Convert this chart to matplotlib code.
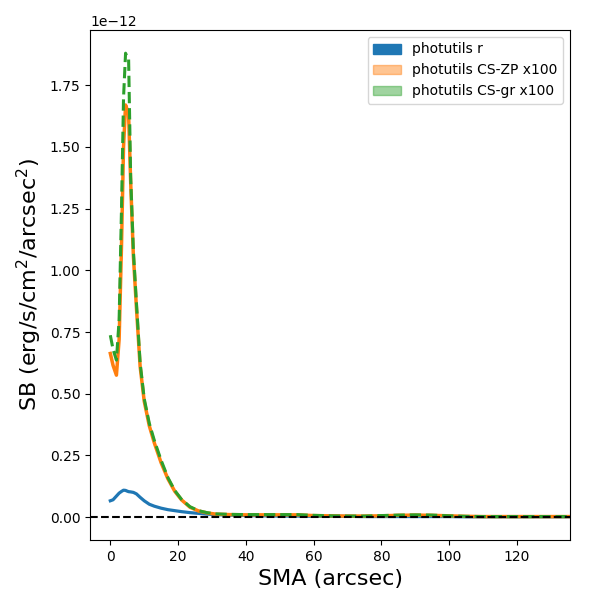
import numpy as np
import matplotlib
matplotlib.use("Agg")
import matplotlib.pyplot as plt
from matplotlib.patches import Patch

# surface-brightness profiles (units of 1e-12)
sma = [0.0, 0.8, 1.8, 2.6, 3.3, 3.9, 4.5, 5.0, 5.4, 6.0, 6.8, 7.7, 8.8,
       10.0, 11.5, 13.0, 15.0, 17.0, 19.0, 21.0, 23.5, 26.0, 28.5, 31.0,
       35.0, 40.0, 45.0, 50.0, 55.0, 60.0, 65.0, 70.0, 75.0, 80.0, 85.0,
       90.0, 95.0, 100.0, 105.0, 110.0, 120.0, 130.0, 140.0]

sb_r = [0.066, 0.070, 0.085, 0.097, 0.104, 0.109, 0.108, 0.105, 0.103, 0.102,
        0.100, 0.094, 0.080, 0.066, 0.052, 0.044, 0.036, 0.030, 0.026, 0.022,
        0.018, 0.015, 0.012, 0.010, 0.008, 0.006, 0.005, 0.004, 0.004, 0.003,
        0.003, 0.003, 0.002, 0.002, 0.002, 0.002, 0.002, 0.002, 0.001, 0.001,
        0.001, 0.001, 0.001]

sb_zp = [0.663, 0.615, 0.575, 0.720, 1.100, 1.500, 1.670, 1.650, 1.630, 1.360,
         1.060, 0.850, 0.610, 0.470, 0.370, 0.300, 0.220, 0.155, 0.105, 0.070,
         0.040, 0.025, 0.017, 0.012, 0.010, 0.009, 0.009, 0.009, 0.009, 0.006,
         0.005, 0.004, 0.004, 0.005, 0.007, 0.008, 0.007, 0.005, 0.003, 0.002,
         0.002, 0.002, 0.002]

sb_gr = [0.737, 0.680, 0.636, 0.800, 1.250, 1.700, 1.880, 1.860, 1.855, 1.380,
         1.080, 0.870, 0.625, 0.480, 0.380, 0.310, 0.230, 0.160, 0.108, 0.072,
         0.042, 0.026, 0.018, 0.013, 0.011, 0.010, 0.010, 0.010, 0.010, 0.007,
         0.005, 0.004, 0.004, 0.006, 0.008, 0.009, 0.008, 0.005, 0.003, 0.002,
         0.002, 0.002, 0.002]

x = np.array(sma)
scale = 1e-12

fig, ax = plt.subplots(figsize=(6, 6), dpi=100)
fig.subplots_adjust(left=0.15, right=0.95, top=0.95, bottom=0.10)

ax.plot(x, np.array(sb_r) * scale, color="C0", lw=2.3)
ax.plot(x, np.array(sb_zp) * scale, color="C1", lw=2.5)
ax.plot(x, np.array(sb_gr) * scale, color="C2", lw=2.2, ls="--")
ax.axhline(0, color="k", ls="--", lw=1.5)

ax.set_xlim(-6, 135.7)
ax.set_xlabel("SMA (arcsec)", fontsize=16)
ax.set_ylabel("SB (erg/s/cm$^2$/arcsec$^2$)", fontsize=16)

handles = [Patch(color="C0", label="photutils r"),
           Patch(color="C1", alpha=0.45, label="photutils CS-ZP x100"),
           Patch(color="C2", alpha=0.45, label="photutils CS-gr x100")]
ax.legend(handles=handles, loc="upper right")

fig.savefig("out.png", dpi=100)
